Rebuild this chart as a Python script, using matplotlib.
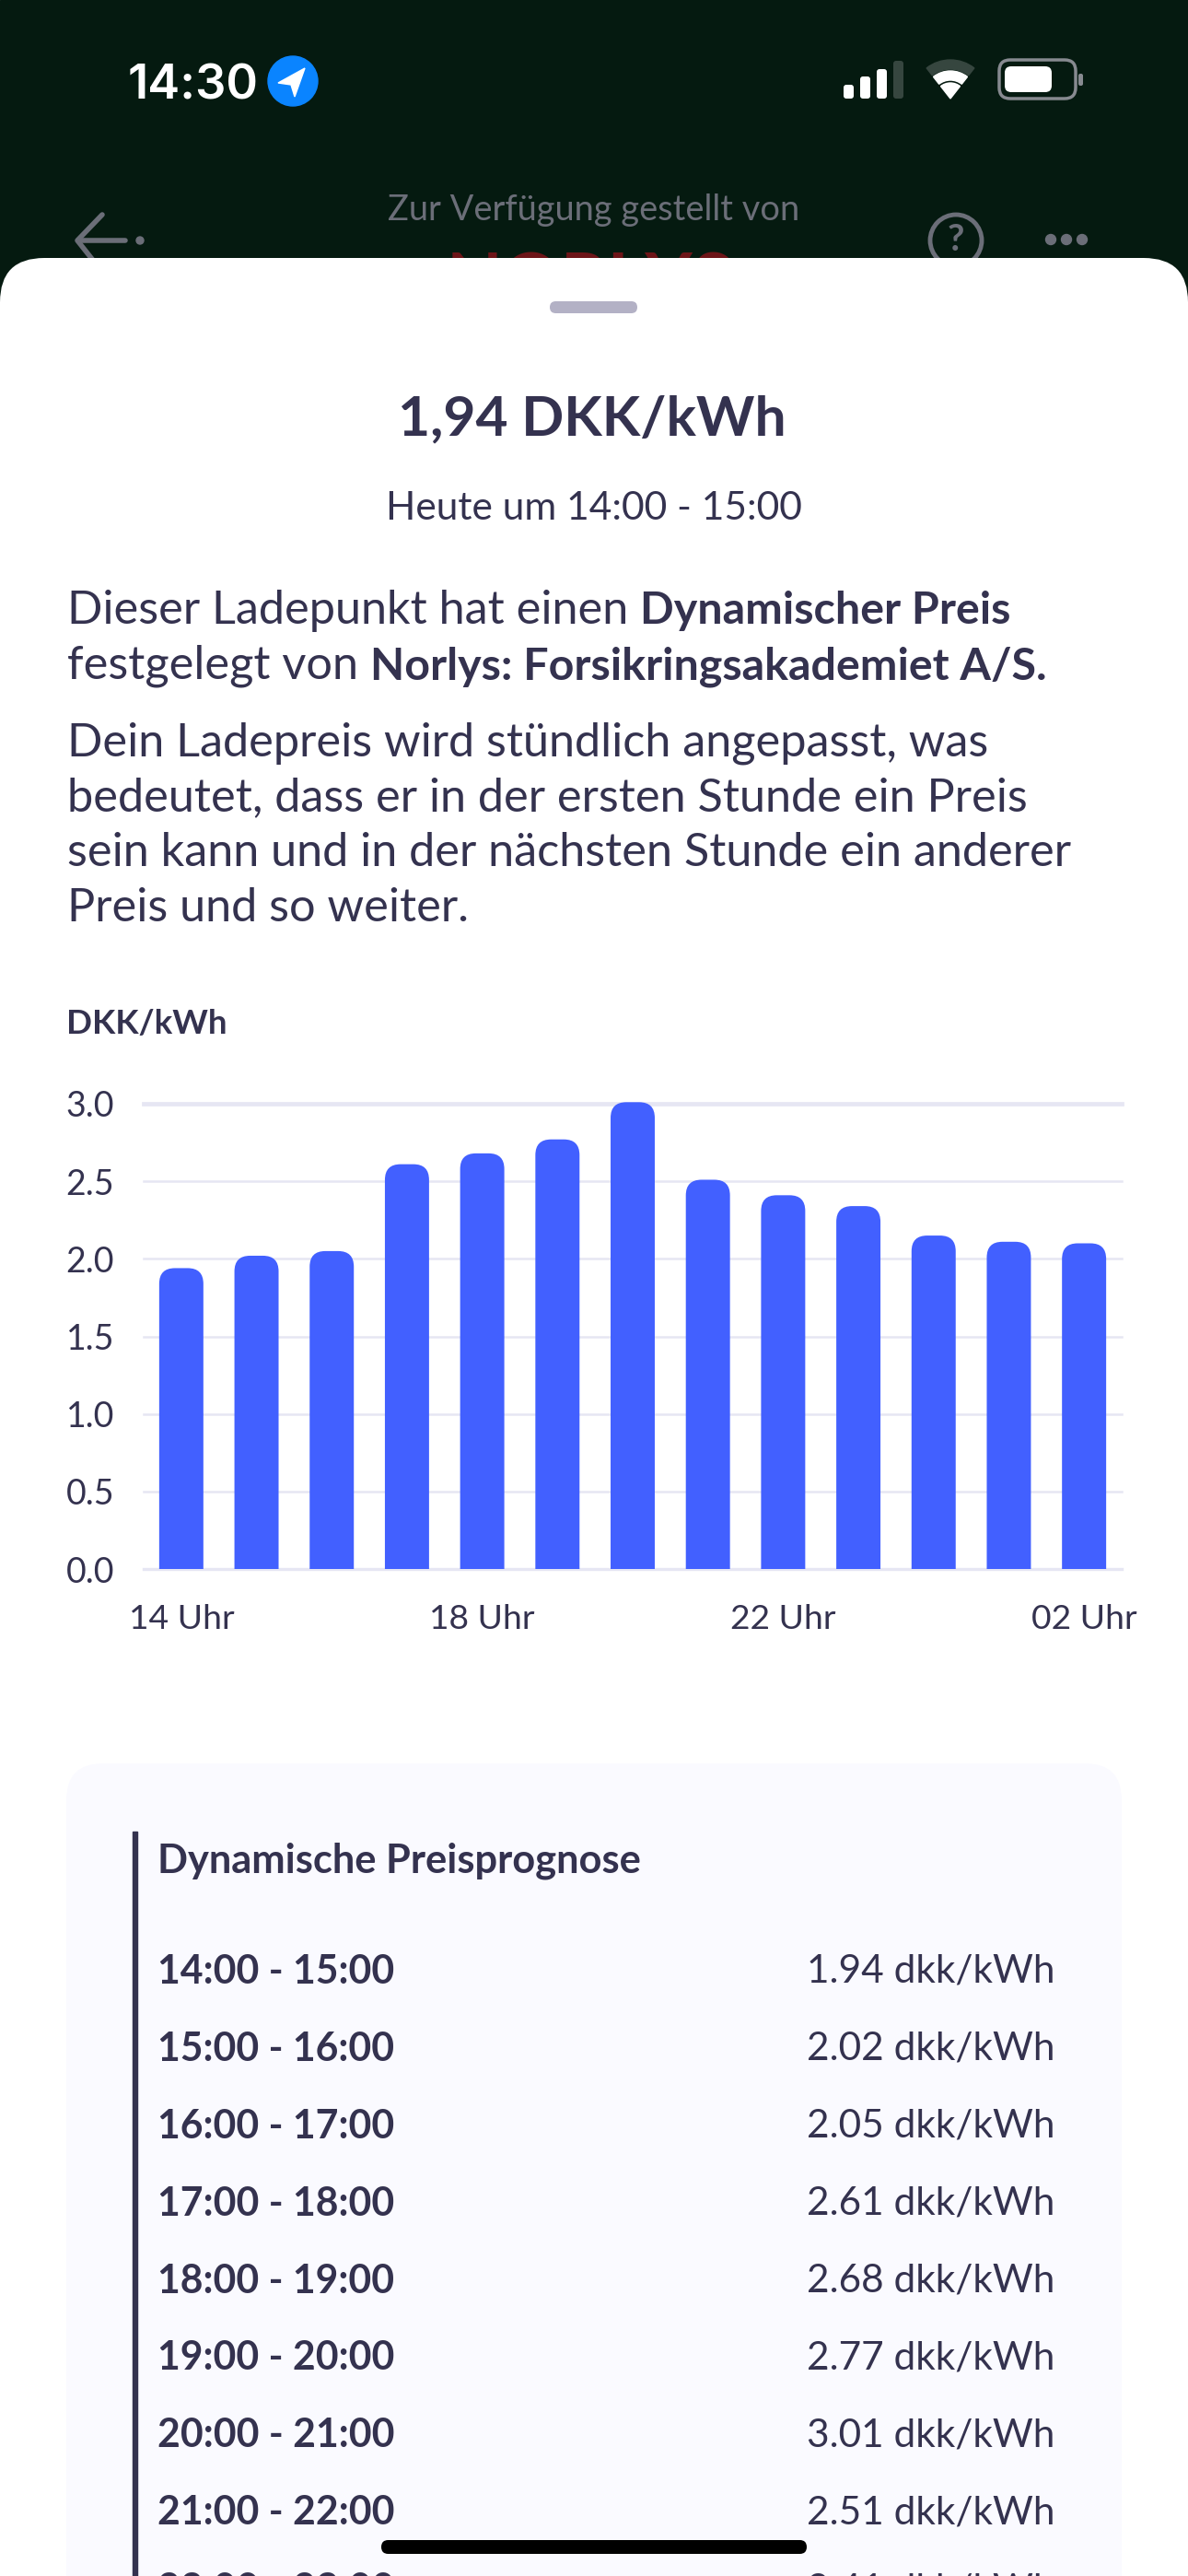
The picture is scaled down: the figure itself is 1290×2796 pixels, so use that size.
"""Dynamic charging price screen"""

import matplotlib
matplotlib.use("Agg")
import matplotlib.pyplot as plt
from matplotlib.patches import Circle, FancyBboxPatch, PathPatch, Polygon, Rectangle, Wedge
from matplotlib.path import Path

W, H = 1290, 2796
INK = '#34324f'
BLUE = '#4260ff'
GRID = '#e6e6f3'
MUTED = '#6b6e78'

# Chart data
hours = ['14', '15', '16', '17', '18', '19', '20', '21', '22', '23', '00', '01', '02']
prices = [1.94, 2.02, 2.05, 2.61, 2.68, 2.77, 3.01, 2.51, 2.41, 2.34, 2.15, 2.11, 2.10]
y_ticks = [0.0, 0.5, 1.0, 1.5, 2.0, 2.5, 3.0]
x_tick_pos = [0, 4, 8, 12]
x_tick_labels = ['14 Uhr', '18 Uhr', '22 Uhr', '02 Uhr']

# Forecast table
slots = ['14:00 - 15:00', '15:00 - 16:00', '16:00 - 17:00', '17:00 - 18:00',
         '18:00 - 19:00', '19:00 - 20:00', '20:00 - 21:00', '21:00 - 22:00',
         '22:00 - 23:00']
slot_prices = ['1.94 dkk/kWh', '2.02 dkk/kWh', '2.05 dkk/kWh', '2.61 dkk/kWh',
               '2.68 dkk/kWh', '2.77 dkk/kWh', '3.01 dkk/kWh', '2.51 dkk/kWh',
               '2.41 dkk/kWh']

plt.rcParams['font.family'] = ['Lato', 'DejaVu Sans']

fig = plt.figure(figsize=(W / 100, H / 100), dpi=100, facecolor='white')

# Whole screen in pixel coordinates
bg = fig.add_axes([0, 0, 1, 1])
bg.set_xlim(0, W)
bg.set_ylim(H, 0)
bg.axis('off')


def px(size):
    return size * 0.72


def rounded(x0, y0, x1, y1, r, **kw):
    p = FancyBboxPatch((x0 + r, y0 + r), x1 - x0 - 2 * r, y1 - y0 - 2 * r,
                       boxstyle=f'round,pad={r},rounding_size={r}', **kw)
    bg.add_patch(p)
    return p


def runs(x, y, parts):
    # consecutive regular/bold pieces on one line
    renderer = fig.canvas.get_renderer()
    for s, weight, size in parts:
        t = bg.text(x, y, s, fontsize=px(size), color=INK, fontweight=weight,
                    va='baseline', ha='left', zorder=5)
        x = t.get_window_extent(renderer).x1


# Dark header behind the sheet
bg.add_patch(Rectangle((0, 0), W, 330, color='#051a10', zorder=0))
bg.text(645, 228, 'Zur Verfügung gestellt von', fontsize=px(38), color=MUTED,
        ha='center', va='center', zorder=1)
bg.text(640, 310, 'NORLYS', fontsize=px(79), color='#6d1518', fontweight='bold',
        ha='center', va='center', zorder=1)
bg.plot([136, 86], [261, 261], color=MUTED, lw=4, solid_capstyle='round', zorder=1)
bg.plot([111, 84, 103], [233, 261, 285], color=MUTED, lw=4, solid_capstyle='round', zorder=1)
bg.add_patch(Circle((152, 261), 4, color=MUTED, zorder=1))
bg.add_patch(Circle((1038, 261), 28, fill=False, ec=MUTED, lw=3.5, zorder=1))
bg.text(1038, 260, '?', fontsize=px(40), color=MUTED, fontweight='bold',
        ha='center', va='center', zorder=1)
for cx in [1141, 1158, 1175]:
    bg.add_patch(Circle((cx, 260), 5.5, color=MUTED, zorder=1))

# Status bar
bg.text(139, 107, '14:30', fontsize=px(52.5), color='white', fontweight='semibold',
        family='Inter', ha='left', va='baseline', zorder=2)
bg.add_patch(Circle((318, 88), 27, color='#0a84ff', zorder=2))
bg.add_patch(Polygon([[302, 90], [331, 74], [320, 105], [316, 92]], color='white', zorder=3))
for bx, top, c in zip([916, 934, 952, 970], [92, 83, 75, 66],
                      ['white', 'white', 'white', '#36463f']):
    rounded(bx, top, bx + 11, 107, 3, fc=c, ec='none', zorder=2)
bg.add_patch(Wedge((1032, 107), 42, 232, 308, width=10, color='#36463f', zorder=2))
bg.add_patch(Wedge((1032, 107), 30, 232, 308, width=10, color='white', zorder=2))
bg.add_patch(Wedge((1032, 107), 17, 232, 308, color='white', zorder=2))
rounded(1085, 65, 1168, 107, 12, fc='none', ec='#878a90', lw=2.5, zorder=2)
rounded(1091, 72, 1142, 100, 7, fc='white', ec='none', zorder=2)
rounded(1171, 80, 1176, 93, 2, fc='#878a90', ec='none', zorder=2)

# White sheet
rounded(0, 280, W, H + 200, 48, fc='white', ec='none', zorder=3)
rounded(597, 327, 692, 340, 6.5, fc='#b3b1c5', ec='none', zorder=4)

bg.text(643, 455, '1,94 DKK/kWh', fontsize=px(60.5), color=INK, fontweight='bold',
        ha='center', va='center', zorder=5)
bg.text(645, 552, 'Heute um 14:00 - 15:00', fontsize=px(42.5), color=INK,
        ha='center', va='center', zorder=5)

BODY, BODY_BOLD = 50.5, 48.4
runs(73, 677, [('Dieser Ladepunkt hat einen ', 'normal', BODY), ('Dynamischer Preis', 'bold', BODY_BOLD)])
runs(73, 737, [('festgelegt von ', 'normal', BODY), ('Norlys: Forsikringsakademiet A/S.', 'bold', BODY_BOLD)])
for yy, line in zip([820, 880, 940, 1000],
                    ['Dein Ladepreis wird stündlich angepasst, was',
                     'bedeutet, dass er in der ersten Stunde ein Preis',
                     'sein kann und in der nächsten Stunde ein anderer',
                     'Preis und so weiter.']):
    runs(73, yy, [(line, 'normal', BODY)])

bg.text(72, 1112, 'DKK/kWh', fontsize=px(36.8), color=INK, fontweight='bold',
        ha='left', va='center', zorder=5)

# Forecast panel
rounded(72, 1914, 1218, H + 200, 40, fc='#fafaff', ec='none', zorder=3)
bg.add_patch(Rectangle((144, 1988), 5, H - 1988, color=INK, zorder=4))
bg.text(171, 2020, 'Dynamische Preisprognose', fontsize=px(43.4), color=INK,
        fontweight='bold', ha='left', va='center', zorder=5)
for i, (slot, value) in enumerate(zip(slots, slot_prices)):
    yy = 2140 + i * 83.9
    bg.text(171, yy, slot, fontsize=px(42.8), color=INK, fontweight='bold',
            ha='left', va='center', zorder=5)
    bg.text(1145, yy, value, fontsize=px(42.4), color=INK, ha='right', va='center', zorder=5)

# Home indicator
rounded(414, 2757, 876, 2772, 7.5, fc='black', ec='none', zorder=9)

# Bar chart
ax = fig.add_axes([156 / W, 1 - 1703 / H, 1062 / W, 505 / H])
ax.patch.set_alpha(0)
ax.set_xlim(-0.5, 12.5)
ax.set_ylim(0, 3)
for side in ax.spines.values():
    side.set_visible(False)

ax.set_yticks(y_ticks)
ax.set_yticklabels([f'{v:.1f}' for v in y_ticks], fontsize=px(37.5), color=INK)
ax.set_xticks(x_tick_pos)
ax.set_xticklabels(x_tick_labels, fontsize=px(37.2), color=INK)
ax.tick_params(axis='both', length=0)
ax.tick_params(axis='y', pad=23)
ax.tick_params(axis='x', pad=27)
for label in ax.get_yticklabels():
    label.set_y(label.get_position()[1])
ax.grid(axis='y', color=GRID, lw=1.8)
ax.set_axisbelow(True)
for line in ax.get_ygridlines():
    line.set_clip_on(False)
ax.get_ygridlines()[-1].set_linewidth(3.4)
ax.get_ygridlines()[0].set_linewidth(2.4)

# rounded tops, radius worked out in data units so the corners stay circular
bar_w = 0.587
rx = 17 / (1062 / 13)
ry = 17 / (505 / 3)
for i, v in enumerate(prices):
    l, r = i - bar_w / 2, i + bar_w / 2
    verts = [(l, 0), (l, v - ry), (l, v), (l + rx, v), (r - rx, v), (r, v), (r, v - ry), (r, 0), (l, 0)]
    codes = [Path.MOVETO, Path.LINETO, Path.CURVE3, Path.CURVE3, Path.LINETO,
             Path.CURVE3, Path.CURVE3, Path.LINETO, Path.CLOSEPOLY]
    ax.add_patch(PathPatch(Path(verts, codes), fc=BLUE, ec='none', clip_on=False, zorder=3))

fig.savefig('out.png', dpi=100)
